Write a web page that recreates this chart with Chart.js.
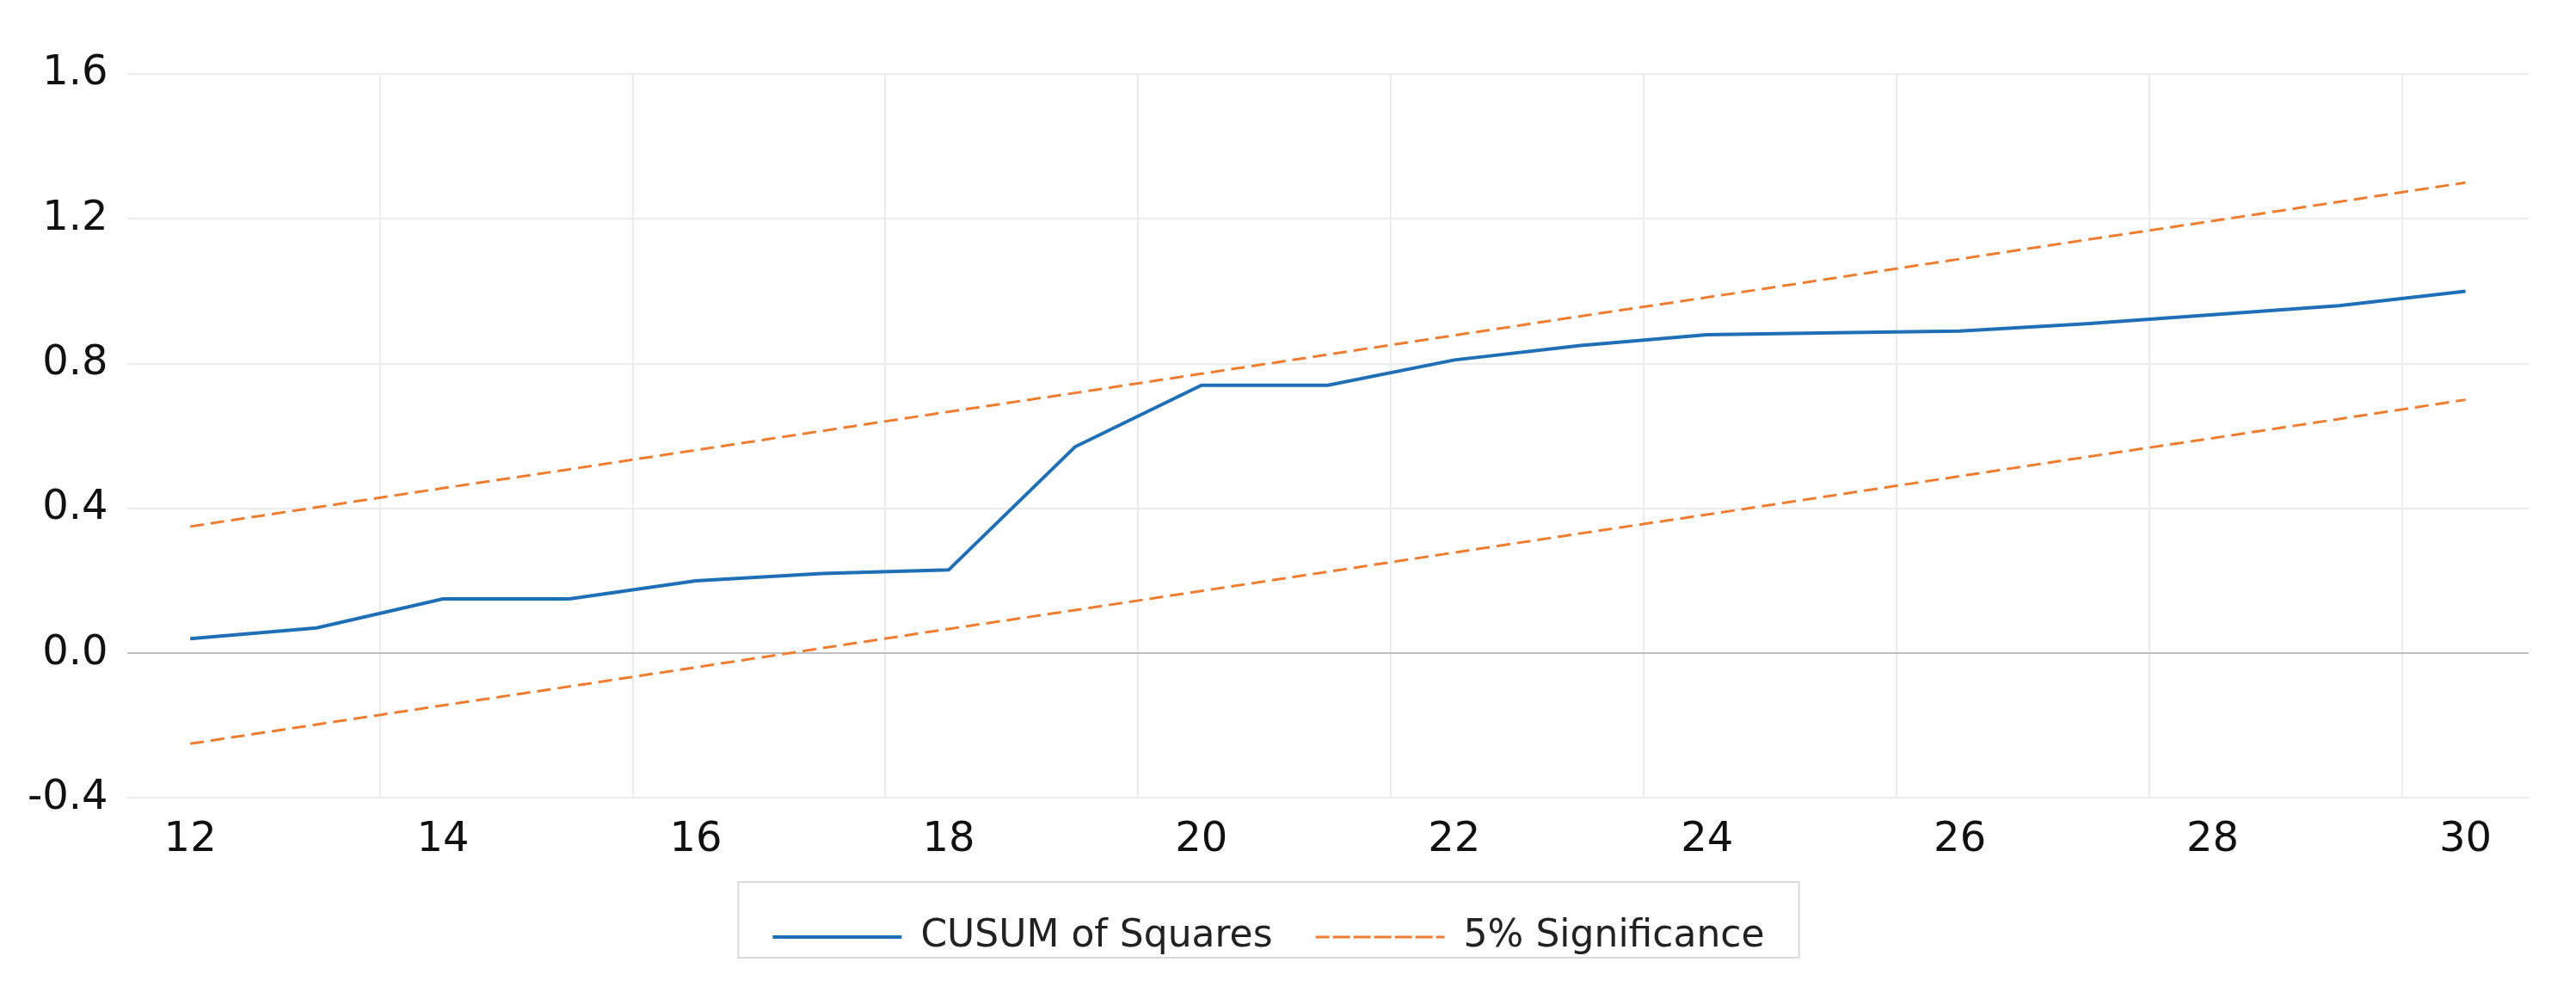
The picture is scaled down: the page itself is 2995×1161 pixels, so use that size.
<!DOCTYPE html>
<html><head><meta charset="utf-8">
<script src="https://cdn.jsdelivr.net/npm/chart.js@4/dist/chart.umd.min.js"></script>
<style>html,body{margin:0;padding:0;background:#fff}#w{width:2995px;height:1161px}</style>
</head><body><div id="w"><canvas id="c"></canvas></div>
<script>
const years = [12,13,14,15,16,17,18,19,20,21,22,23,24,25,26,27,28,29,30];
const cusum = [0.04,0.07,0.15,0.15,0.20,0.22,0.23,0.57,0.74,0.74,0.81,0.85,0.88,0.885,0.89,0.91,0.935,0.96,1.0];
const lower = [-0.250,-0.197,-0.144,-0.092,-0.039,0.014,0.067,0.119,0.172,0.225,0.278,0.331,0.383,0.436,0.489,0.542,0.594,0.647,0.700];
const upper = [0.350,0.403,0.456,0.508,0.561,0.614,0.667,0.719,0.772,0.825,0.878,0.931,0.983,1.036,1.089,1.142,1.194,1.247,1.300];
const xTickLabels = [12,14,16,18,20,22,24,26,28,30];
const gridPos = [13.5,15.5,17.5,19.5,21.5,23.5,25.5,27.5,29.5];
const pts = a => years.map((x,i)=>({x, y:a[i]}));
const font = {family:"'DejaVu Sans', sans-serif", size:48};
const legendBox = {id:'legendBox', afterDraw(ch){const l=ch.legend;const hb=l.legendHitBoxes;if(!hb||!hb.length)return;
  let x0=Math.min(...hb.map(h=>h.left)), x1=Math.max(...hb.map(h=>h.left+h.width));
  const c=ch.ctx;c.save();c.strokeStyle='#d9d9d9';c.lineWidth=2;
  c.strokeRect(x0-40, l.top+8, (x1-x0)+80, l.bottom-l.top-16);c.restore();}};
new Chart(document.getElementById('c'), {
  type:'line',
  data:{datasets:[
    {label:'CUSUM of Squares', data:pts(cusum), borderColor:'#1f6fb6', borderWidth:4, pointRadius:0, tension:0},
    {label:'5% Significance', data:pts(upper), borderColor:'#ed7d31', borderWidth:3, borderDash:[16,8], pointRadius:0},
    {label:'lower', data:pts(lower), borderColor:'#ed7d31', borderWidth:3, borderDash:[16,8], pointRadius:0}
  ]},
  options:{responsive:true, maintainAspectRatio:false, animation:false,
    layout:{padding:{left:10,right:55,top:86,bottom:40}},
    plugins:{tooltip:{enabled:false},
      legend:{position:'bottom', labels:{font:{...font,size:44}, color:'#222', boxWidth:150, boxHeight:0, padding:50,
        filter:i=>i.text!=='lower', generateLabels(ch){return Chart.defaults.plugins.legend.labels.generateLabels(ch).map(o=>({...o, fillStyle:'transparent'}));}}}},
    scales:{
      x:{type:'linear', min:11.5, max:30.5, grid:{display:false}, border:{display:false},
        afterBuildTicks(s){s.ticks=xTickLabels.map(v=>({value:v}));},
        ticks:{font, color:'#111', padding:12, maxRotation:0, autoSkip:false}},
      x2:{type:'linear', position:'bottom', min:11.5, max:30.5, display:true,
        afterBuildTicks(s){s.ticks=gridPos.map(v=>({value:v}));},
        grid:{color:'#ececec', lineWidth:2, drawTicks:false}, border:{display:false}, ticks:{display:false}},
      y:{min:-0.4, max:1.6, border:{display:false},
        ticks:{stepSize:0.4, font, color:'#111', padding:22, callback:v=>v.toFixed(1)},
        grid:{color:c=>Math.abs(c.tick.value)<1e-9?'#bfbfbf':'#ececec', lineWidth:2, drawTicks:false}}
    }},
  plugins:[legendBox]
});
</script></body></html>
